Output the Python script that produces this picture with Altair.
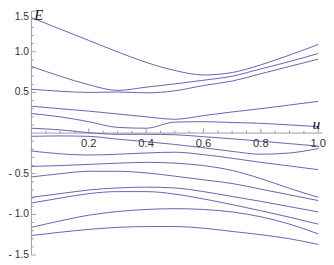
import altair as alt
import pandas as pd

# parameter u and energy levels E
U = [0.0, 0.1, 0.2, 0.3, 0.4, 0.5, 0.6, 0.7, 0.8, 0.9, 1.0]
A = [1.42, 1.28, 1.14, 1.00, 0.87, 0.77, 0.715, 0.745, 0.84, 0.96, 1.09]
B = [0.82, 0.70, 0.595, 0.525, 0.565, 0.605, 0.65, 0.70, 0.79, 0.88, 0.98]
C = [0.54, 0.515, 0.50, 0.505, 0.495, 0.52, 0.585, 0.64, 0.73, 0.82, 0.91]
D = [0.33, 0.30, 0.27, 0.235, 0.20, 0.17, 0.215, 0.26, 0.30, 0.345, 0.39]
F = [0.24, 0.20, 0.14, 0.07, 0.06, 0.135, 0.14, 0.13, 0.12, 0.10, 0.08]
G = [0.06, 0.04, 0.005, -0.015, -0.015, -0.02, -0.045, -0.07, -0.10, -0.13, -0.16]
H = [-0.04, -0.035, -0.04, -0.075, -0.105, -0.14, -0.18, -0.225, -0.26, -0.245, -0.19]
I = [-0.22, -0.255, -0.27, -0.26, -0.245, -0.235, -0.265, -0.31, -0.36, -0.405, -0.45]
J = [-0.41, -0.40, -0.385, -0.37, -0.36, -0.37, -0.40, -0.46, -0.56, -0.68, -0.79]
K = [-0.54, -0.50, -0.47, -0.47, -0.49, -0.53, -0.575, -0.62, -0.69, -0.76, -0.83]
L = [-0.79, -0.745, -0.70, -0.675, -0.665, -0.675, -0.72, -0.78, -0.84, -0.905, -0.97]
M = [-0.86, -0.80, -0.745, -0.72, -0.72, -0.75, -0.81, -0.88, -0.955, -1.035, -1.12]
N = [-1.16, -1.08, -1.01, -0.965, -0.94, -0.93, -0.94, -0.97, -1.03, -1.12, -1.24]
O = [-1.26, -1.22, -1.185, -1.16, -1.15, -1.15, -1.17, -1.21, -1.25, -1.30, -1.37]

CURVES = {"A": A, "B": B, "C": C, "D": D, "F": F, "G": G, "H": H, "I": I,
          "J": J, "K": K, "L": L, "M": M, "N": N, "O": O}

X_MAJOR = [0.2, 0.4, 0.6, 0.8, 1.0]
X_LABELS = ["0.2", "0.4", "0.6", "0.8", "1.0"]
X_MINOR = [round(0.05 * i, 2) for i in range(1, 21) if i % 4 != 0]
Y_MAJOR = [-1.5, -1.0, -0.5, 0.5, 1.0]
Y_LABELS = ["- 1.5", "- 1.0", "- 0.5", "0.5", "1.0"]
Y_TOP = [1.5]
Y_TOP_LABEL = ["1.5"]
Y_MINOR = [round(0.1 * i, 1) for i in range(-15, 16) if i % 5 != 0]
X_RANGE = [0.0, 1.0135]
Y_RANGE = [-1.5, 1.5]

rows = [{"curve": k, "u": u, "E": e} for k, vals in CURVES.items() for u, e in zip(U, vals)]
df = pd.DataFrame(rows)

xs = alt.Scale(domain=X_RANGE, nice=False, zero=False)
ys = alt.Scale(domain=Y_RANGE, nice=False, zero=False)

LINE = "#6262b2"
AX = "#9a9a9a"
TXT = "#333333"
FONT = "Liberation Sans"
FS = 10.5


def X(f):
    return alt.X(f, type="quantitative", scale=xs, axis=None)


def Y(f):
    return alt.Y(f, type="quantitative", scale=ys, axis=None)


lines = alt.Chart(df).mark_line(color=LINE, strokeWidth=1, interpolate="monotone").encode(
    x=X("u"), y=Y("E"), detail="curve:N")

xaxis = alt.Chart(pd.DataFrame({"a": [X_RANGE[0]], "b": [X_RANGE[1]], "z": [0.0]})).mark_rule(
    color=AX, strokeWidth=1).encode(x=X("a"), x2="b", y=Y("z"))
yaxis = alt.Chart(pd.DataFrame({"a": [Y_RANGE[0]], "b": [Y_RANGE[1]], "z": [0.0]})).mark_rule(
    color=AX, strokeWidth=1).encode(y=Y("a"), y2="b", x=X("z"))

xminor = alt.Chart(pd.DataFrame({"t": X_MINOR, "z": 0.0})).mark_rule(
    color=AX, y2Offset=-2.5).encode(x=X("t"), y=Y("z"), y2="z")
xmajor = alt.Chart(pd.DataFrame({"t": X_MAJOR, "z": 0.0})).mark_rule(
    color=AX, y2Offset=-4.5).encode(x=X("t"), y=Y("z"), y2="z")
yminor = alt.Chart(pd.DataFrame({"t": Y_MINOR, "z": 0.0})).mark_rule(
    color=AX, x2Offset=2.5).encode(y=Y("t"), x=X("z"), x2="z")
ymajor = alt.Chart(pd.DataFrame({"t": Y_MAJOR + Y_TOP, "z": 0.0})).mark_rule(
    color=AX, x2Offset=4.5).encode(y=Y("t"), x=X("z"), x2="z")

xlab = alt.Chart(pd.DataFrame({"t": X_MAJOR, "lab": X_LABELS, "z": 0.0})).mark_text(
    font=FONT, fontSize=11.5, color=TXT, baseline="middle", dy=11).encode(
    x=X("t"), y=Y("z"), text="lab:N")
ylab = alt.Chart(pd.DataFrame({"t": Y_MAJOR, "lab": Y_LABELS, "z": 0.0})).mark_text(
    font=FONT, fontSize=FS, color=TXT, align="right", baseline="middle", dx=-2.5).encode(
    y=Y("t"), x=X("z"), text="lab:N")
ytop = alt.Chart(pd.DataFrame({"t": Y_TOP, "lab": Y_TOP_LABEL, "z": 0.0})).mark_text(
    font=FONT, fontSize=FS, color=TXT, align="right", baseline="middle", dx=-2.5, dy=6).encode(
    y=Y("t"), x=X("z"), text="lab:N")

etitle = alt.Chart(pd.DataFrame({"lab": ["E"], "xv": [0.0], "yv": [1.5]})).mark_text(
    font="Liberation Serif", fontStyle="italic", fontSize=15, color="#111111",
    align="left", baseline="top", dx=3, dy=-3).encode(
    x=X("xv"), y=Y("yv"), text="lab:N")
utitle = alt.Chart(pd.DataFrame({"lab": ["u"], "xv": [1.0], "yv": [0.0]})).mark_text(
    font="Liberation Serif", fontStyle="italic", fontSize=16, color="#111111",
    align="center", baseline="alphabetic", dx=-2, dy=-4).encode(
    x=X("xv"), y=Y("yv"), text="lab:N")

chart = alt.layer(
    xaxis, yaxis, xminor, xmajor, yminor, ymajor, lines, xlab, ylab, ytop, etitle, utitle
).properties(
    width=298, height=250,
    padding={"left": 24, "top": 0, "right": 4, "bottom": 7},
    autosize=alt.AutoSizeParams(type="none"),
).configure_view(strokeWidth=0)

chart.save("out.html", embed_options={"renderer": "svg", "actions": False})
